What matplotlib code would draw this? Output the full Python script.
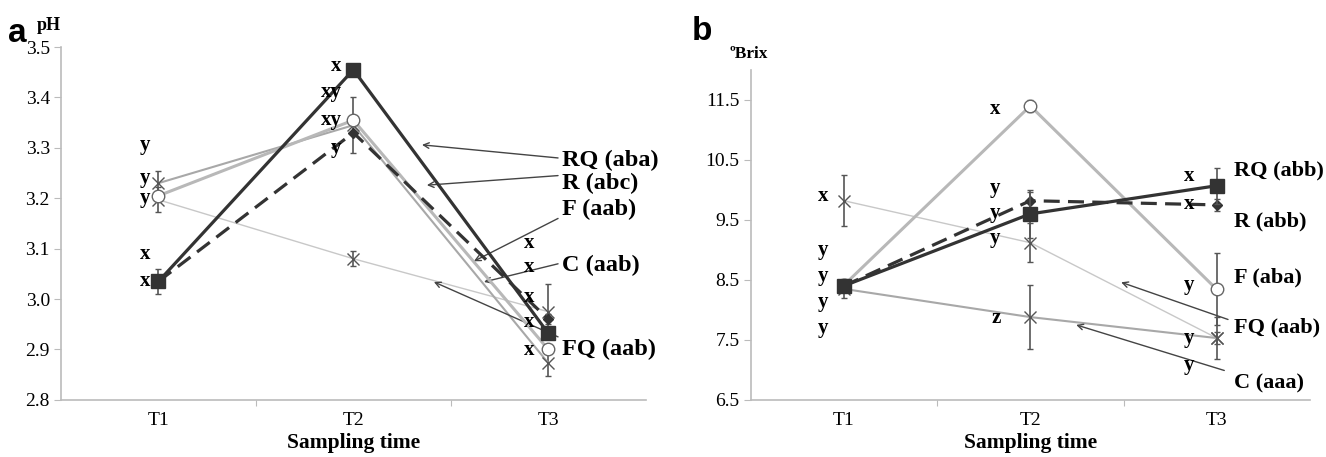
import matplotlib
matplotlib.use("Agg")
import matplotlib.pyplot as plt

plt.rcParams["font.family"] = ["Liberation Serif", "DejaVu Serif"]

times = ["T1", "T2", "T3"]
xpos = [0.5, 1.5, 2.5]

# panel a: pH
ph_RQ = [3.035, 3.455, 2.932]
ph_R = [3.035, 3.33, 2.96]
ph_F = [3.205, 3.355, 2.90]
ph_C = [3.23, 3.345, 2.873]
ph_FQ = [3.197, 3.08, 2.975]
ph_RQ_err = [0.025, 0.0, 0.0]
ph_R_err = [0.0, 0.0, 0.01]
ph_F_err = [0.01, 0.0, 0.0]
ph_C_err = [0.025, 0.055, 0.025]
ph_FQ_err = [0.025, 0.015, 0.055]

# panel b: Brix
br_RQ = [8.40, 9.60, 10.07]
br_R = [8.40, 9.82, 9.75]
br_F = [8.41, 11.40, 8.34]
br_FQ = [9.82, 9.12, 7.53]
br_C = [8.35, 7.88, 7.53]
br_RQ_err = [0.1, 0.4, 0.3]
br_R_err = [0.0, 0.15, 0.1]
br_F_err = [0.1, 0.1, 0.6]
br_FQ_err = [0.43, 0.33, 0.35]
br_C_err = [0.15, 0.54, 0.1]

# significance letters (letter, value) per sampling time
ph_let = [["y", "y", "y", "x", "x"], ["x", "xy", "xy", "y"], ["x", "x", "x", "x", "x"]]
ph_let_y = [[3.305, 3.24, 3.20, 3.09, 3.035], [3.462, 3.41, 3.355, 3.30],
            [3.111, 3.064, 3.004, 2.955, 2.899]]
br_let = [["x", "y", "y", "y", "y"], ["x", "y", "y", "y", "z"], ["x", "x", "y", "y", "y"]]
br_let_y = [[9.9, 8.99, 8.56, 8.13, 7.70], [11.35, 10.04, 9.62, 9.2, 7.87],
            [10.24, 9.76, 8.41, 7.53, 7.08]]

ph_names = ["RQ (aba)", "R (abc)", "F (aab)", "C (aab)", "FQ (aab)"]
ph_name_y = [3.276, 3.23, 3.177, 3.066, 2.90]
br_names = ["RQ (abb)", "R (abb)", "F (aba)", "FQ (aab)", "C (aaa)"]
br_name_y = [10.32, 9.48, 8.54, 7.70, 6.78]

fig = plt.figure(figsize=(13.26, 4.57), dpi=100)
ax1 = fig.add_axes([0.046, 0.125, 0.441, 0.772])
ax2 = fig.add_axes([0.566, 0.125, 0.422, 0.722])

dark = "#333333"


def draw(ax, RQ, R, F, C, FQ, eRQ, eR, eF, eC, eFQ):
    ekw = dict(ecolor="#555555", elinewidth=1.2, capsize=2.5, capthick=1)
    ax.errorbar(xpos, FQ, yerr=eFQ, color="#c8c8c8", lw=1.0, marker="x", ms=8,
                mec="#555555", mew=1.0, zorder=2, **ekw)
    ax.errorbar(xpos, C, yerr=eC, color="#a8a8a8", lw=1.5, marker="x", ms=8,
                mec="#555555", mew=1.0, zorder=2, **ekw)
    ax.errorbar(xpos, F, yerr=eF, color="#b8b8b8", lw=2.2, marker="o", ms=9,
                mfc="white", mec="#666666", mew=1.0, zorder=3, **ekw)
    ax.errorbar(xpos, R, yerr=eR, color=dark, lw=2.3, ls=(0, (5, 2.6)), marker="D",
                ms=5, mfc=dark, mec=dark, zorder=4, **ekw)
    ax.errorbar(xpos, RQ, yerr=eRQ, color=dark, lw=2.3, marker="s", ms=10,
                mfc=dark, mec=dark, zorder=5, **ekw)


def style(ax, ymin, ymax, yticks):
    ax.set_xlim(0, 3)
    ax.set_ylim(ymin, ymax)
    for s in ["top", "right"]:
        ax.spines[s].set_visible(False)
    for s in ["left", "bottom"]:
        ax.spines[s].set_color("#bbbbbb")
        ax.spines[s].set_linewidth(1.2)
    ax.set_yticks(yticks)
    ax.set_yticklabels([f"{t:.1f}" for t in yticks], fontsize=14)
    ax.tick_params(axis="y", length=5, color="#bbbbbb", pad=3)
    ax.set_xticks([1, 2])
    ax.set_xticklabels(["", ""])
    ax.tick_params(axis="x", length=4, color="#bbbbbb")
    tr = ax.get_xaxis_transform()
    for x, t in zip(xpos, times):
        ax.annotate(t, (x, 0), xycoords=tr, xytext=(0, -12), textcoords="offset pixels",
                    ha="center", va="top", fontsize=14)
    ax.annotate("Sampling time", (1.5, 0), xycoords=tr, xytext=(0, -33),
                textcoords="offset pixels", ha="center", va="top", fontsize=15.5,
                fontweight="bold")


draw(ax1, ph_RQ, ph_R, ph_F, ph_C, ph_FQ, ph_RQ_err, ph_R_err, ph_F_err, ph_C_err, ph_FQ_err)
style(ax1, 2.8, 3.5, [2.8, 2.9, 3.0, 3.1, 3.2, 3.3, 3.4, 3.5])
draw(ax2, br_RQ, br_R, br_F, br_C, br_FQ, br_RQ_err, br_R_err, br_F_err, br_C_err, br_FQ_err)
style(ax2, 6.5, 12.0, [6.5, 7.5, 8.5, 9.5, 10.5, 11.5])

# significance letters
for ax, lets, lys, offs in [(ax1, ph_let, ph_let_y, [-0.07, -0.06, -0.1]),
                            (ax2, br_let, br_let_y, [-0.11, -0.16, -0.15])]:
    for i in range(3):
        for t, yv in zip(lets[i], lys[i]):
            ax.text(xpos[i] + offs[i], yv, t, ha="right" if i == 1 else "center",
                    va="center", fontsize=15, fontweight="bold", zorder=6)

# treatment labels
for n, yv in zip(ph_names, ph_name_y):
    ax1.text(2.57, yv, n, ha="left", va="center", fontsize=17.5, fontweight="bold",
             clip_on=False)
for n, yv in zip(br_names, br_name_y):
    ax2.text(2.59, yv, n, ha="left", va="center", fontsize=16, fontweight="bold",
             clip_on=False)

akw = dict(arrowstyle="->", color="#444444", lw=1.0, shrinkA=0, shrinkB=0)
for tail, head in [((2.55, 3.28), (1.852, 3.306)), ((2.55, 3.245), (1.877, 3.226)),
                   ((2.55, 3.16), (2.118, 3.075)), ((2.55, 3.07), (2.17, 3.034)),
                   ((2.55, 2.925), (1.913, 3.034))]:
    ax1.annotate("", xy=head, xytext=tail, arrowprops=akw, annotation_clip=False)
for tail, head in [((2.56, 7.84), (1.987, 8.46)), ((2.54, 6.99), (1.746, 7.75))]:
    ax2.annotate("", xy=head, xytext=tail, arrowprops=akw, annotation_clip=False)

fig.text(8 / 1326, 1 - 33 / 457, "a", fontsize=24, fontweight="bold",
         family="Liberation Sans", va="center", ha="left")
fig.text(37 / 1326, 1 - 26 / 457, "pH", fontsize=13, fontweight="bold", va="center")
fig.text(692 / 1326, 1 - 32 / 457, "b", fontsize=24, fontweight="bold",
         family="Liberation Sans", va="center", ha="left")
fig.text(729 / 1326, 1 - 54 / 457, "\u00baBrix", fontsize=12.5, fontweight="bold", va="center")

fig.savefig("out.png", dpi=100)
